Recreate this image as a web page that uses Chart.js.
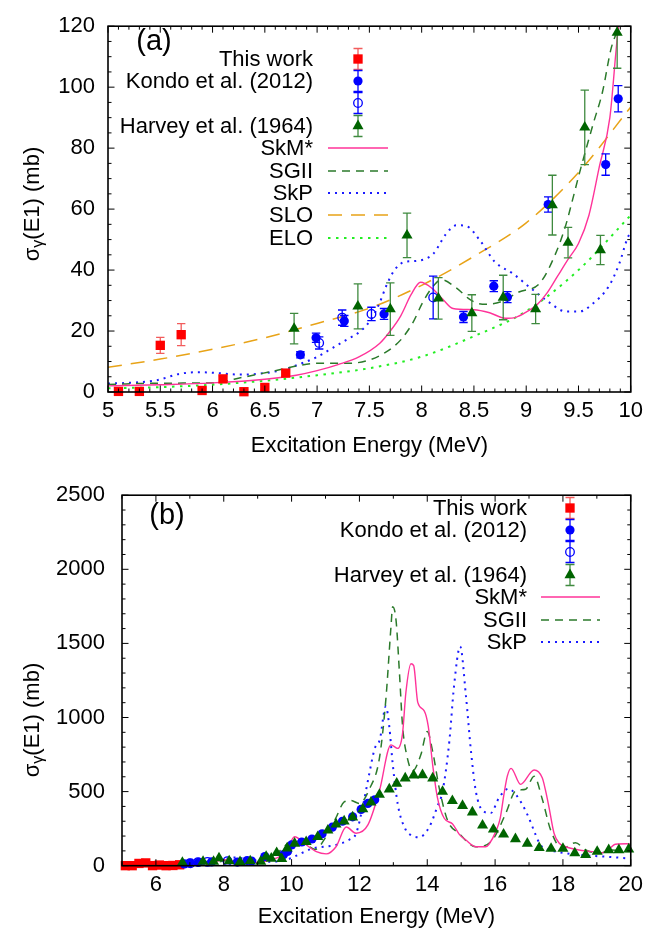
<!DOCTYPE html>
<html><head><meta charset="utf-8">
<script src="https://cdn.jsdelivr.net/npm/chart.js@4.4.1/dist/chart.umd.min.js"></script>
<style>
html,body{margin:0;padding:0;background:#fff;}
#wrap{position:relative;width:649px;height:937px;overflow:hidden;}
canvas{position:absolute;left:0;}
#ca{top:0;} #cb{top:465px;}
</style></head><body>
<div id="wrap"><canvas id="ca" width="649" height="465"></canvas><canvas id="cb" width="649" height="472"></canvas></div>
<script>
// ---------------- DATA ----------------
// Panel (a) tick labels
const xTicksA = [5, 5.5, 6, 6.5, 7, 7.5, 8, 8.5, 9, 9.5, 10];
const xTickLabelsA = ['5','5.5','6','6.5','7','7.5','8','8.5','9','9.5','10'];
const yTicksA = [0, 20, 40, 60, 80, 100, 120];
const yTickLabelsA = ['0','20','40','60','80','100','120'];
// Panel (b) tick labels
const xTicksB = [6, 8, 10, 12, 14, 16, 18, 20];
const xTickLabelsB = ['6','8','10','12','14','16','18','20'];
const yTicksB = [0, 500, 1000, 1500, 2000, 2500];
const yTickLabelsB = ['0','500','1000','1500','2000','2500'];

// This work
const thisWorkE   = [5.1, 5.3, 5.5, 5.7, 5.9, 6.1, 6.3, 6.5, 6.7];
const thisWorkS   = [0.2, 0.2, 15.3, 18.8, 0.5, 4.3, 0.1, 1.5, 6.2];
const thisWorkErr = [0.8, 0.8, 2.6, 3.6, 0.8, 1.0, 0.8, 0.8, 1.0];
// Kondo et al. (2012), filled
const kondoE   = [6.84, 6.99, 7.26, 7.64, 8.40, 8.69, 8.82, 9.21, 9.76, 9.88];
const kondoS   = [12.2, 17.8, 23.3, 25.6, 24.6, 34.7, 31.1, 61.5, 74.6, 96.2];
const kondoErr = [1.0, 1.5, 1.8, 1.8, 1.8, 1.8, 1.8, 2.5, 3.5, 4.3];
// Kondo et al. (2012), open
const kondoOpenE   = [7.02, 7.24, 7.52, 8.11];
const kondoOpenS   = [16.1, 24.4, 25.6, 31.0];
const kondoOpenErr = [2.0, 2.5, 2.2, 7.0];
// Kondo, higher energies (panel b)
const kondoHiE = [10.0, 10.3, 10.6, 10.9, 11.2, 11.5, 11.8, 12.05, 12.25, 12.45];
const kondoHiS = [140, 160, 180, 215, 260, 300, 330, 380, 420, 445];
// Harvey et al. (1964)
const harveyE   = [6.78, 7.39, 7.70, 7.86, 8.16, 8.48, 8.78, 9.09, 9.25, 9.40, 9.56, 9.71, 9.87];
const harveyS   = [20.8, 28.1, 27.2, 51.4, 30.7, 25.9, 31.0, 27.2, 61.3, 49.0, 86.8, 46.6, 117.9];
const harveyErr = [5.0, 7.4, 8.6, 7.3, 6.8, 6.0, 7.3, 4.8, 9.8, 5.0, 12.2, 4.8, 11.7];
// Harvey, higher energies (panel b)
const harveyHiE = [10.09, 10.43, 10.77, 11.07, 11.31, 11.55, 11.8, 12.1, 12.34, 12.59, 12.88, 13.1, 13.35, 13.6, 13.86, 14.16, 14.45, 14.74, 15.04, 15.33, 15.63, 15.95, 16.25, 16.6, 16.95, 17.3, 17.65, 18.0, 18.35, 18.67, 19.01, 19.35, 19.65, 19.94];
const harveyHiS = [150, 161, 195, 239, 280, 300, 327, 383, 427, 480, 516, 555, 590, 610, 612, 590, 500, 438, 405, 361, 272, 245, 212, 180, 150, 120, 115, 115, 85, 73, 95, 106, 106, 111];

// Panel (a) model curves
const skmA_E = [5.0, 5.5, 6.0, 6.5, 6.8, 7.0, 7.2, 7.4, 7.6, 7.7, 7.8, 7.9, 7.99, 8.1, 8.2, 8.3, 8.5, 8.65, 8.8, 8.9, 9.0, 9.1, 9.2, 9.3, 9.4, 9.5, 9.6, 9.7, 9.8, 9.88, 10.0];
const skmA_S = [2.0, 2.4, 3.0, 4.2, 5.5, 7.0, 9.0, 11.5, 16.0, 20.0, 25.0, 32.0, 36.0, 34.0, 30.5, 27.4, 27.0, 26.0, 24.2, 24.5, 26.2, 28.5, 32.5, 38.0, 43.5, 48.7, 58.0, 74.0, 90.0, 119, 140];
const sg2A_E = [5.0, 5.5, 6.0, 6.3, 6.6, 6.8, 7.0, 7.3, 7.5, 7.65, 7.8, 7.92, 8.01, 8.11, 8.19, 8.33, 8.46, 8.58, 8.75, 8.93, 9.13, 9.28, 9.38, 9.43, 9.51, 9.64, 9.73, 9.81, 9.87, 10.0];
const sg2A_S = [2.5, 2.9, 3.0, 4.9, 7.0, 8.5, 9.4, 9.4, 10.5, 12.9, 17.1, 23.0, 29.4, 34.7, 36.8, 34.2, 30.4, 28.8, 29.5, 32.8, 35.7, 45.3, 54.9, 61.3, 71.9, 87.9, 98.5, 112.4, 118.7, 135];
const skpA_E = [5.0, 5.2, 5.46, 5.69, 5.88, 6.05, 6.26, 6.52, 6.7, 6.83, 7.0, 7.15, 7.3, 7.41, 7.52, 7.6, 7.66, 7.74, 7.84, 7.95, 8.11, 8.23, 8.33, 8.43, 8.56, 8.7, 8.87, 9.06, 9.22, 9.38, 9.51, 9.63, 9.79, 9.89, 9.97, 10.0];
const skpA_S = [2.8, 3.0, 3.8, 6.0, 6.5, 6.2, 5.7, 6.3, 7.5, 9.1, 11.5, 14.5, 17.5, 19.8, 24.0, 29.4, 34.7, 40.0, 42.7, 43.0, 45.3, 51.7, 54.7, 54.4, 49.6, 42.7, 38.9, 33.6, 29.4, 26.4, 26.4, 28.8, 34.7, 42.1, 50.6, 52.5];
const sloA_E = [5.0, 5.5, 6.0, 6.5, 7.0, 7.5, 8.0, 8.5, 9.0, 9.5, 10.0];
const sloA_S = [8.1, 10.8, 14.0, 17.8, 22.5, 27.5, 35.0, 44.5, 55.5, 72.0, 93.5];
const eloA_E = [5.0, 5.5, 6.0, 6.5, 7.0, 7.5, 8.0, 8.5, 9.0, 9.5, 10.0];
const eloA_S = [1.2, 1.6, 2.4, 3.7, 5.5, 7.8, 11.6, 18.3, 26.5, 40.0, 58.0];

// Panel (b) model curves
const skmB_E = [5.0, 6.0, 7.0, 7.5, 7.8, 8.03, 8.3, 8.86, 9.2, 9.55, 9.84, 10.09, 10.38, 10.73, 11.02, 11.31, 11.61, 11.9, 12.25, 12.59, 12.93, 13.13, 13.27, 13.37, 13.52, 13.6, 13.72, 13.91, 14.03, 14.16, 14.3, 14.5, 14.74, 14.95, 15.14, 15.43, 15.72, 15.82, 16.02, 16.15, 16.26, 16.36, 16.47, 16.75, 17.15, 17.39, 17.49, 17.59, 17.74, 17.9, 18.08, 18.47, 18.86, 19.1, 19.3, 19.55, 19.89, 20.0];
const skmB_S = [3, 4, 8, 15, 30, 40, 30, 22, 30, 51, 95, 195, 150, 95, 80, 128, 261, 219, 275, 505, 815, 792, 890, 1169, 1363, 1350, 1102, 1045, 940, 680, 460, 320, 283, 210, 173, 128, 128, 145, 230, 320, 480, 604, 657, 549, 646, 593, 505, 394, 217, 150, 128, 106, 95, 84, 100, 145, 148, 145];
const sg2B_E = [5.0, 6.0, 7.0, 7.5, 8.2, 8.6, 9.0, 9.4, 9.7, 10.0, 10.3, 10.7, 11.0, 11.3, 11.55, 11.75, 12.0, 12.3, 12.59, 12.78, 12.93, 12.98, 13.08, 13.18, 13.27, 13.4, 13.57, 13.81, 14.0, 14.16, 14.35, 14.6, 14.94, 15.43, 15.92, 16.31, 16.61, 16.9, 17.15, 17.39, 17.64, 17.98, 18.37, 18.67, 19.06, 19.45, 19.94, 20.0];
const sg2B_S = [3, 4, 7, 10, 37, 29, 33, 55, 110, 165, 160, 110, 190, 320, 430, 440, 420, 520, 726, 1124, 1611, 1748, 1655, 1301, 948, 740, 640, 748, 905, 770, 527, 305, 217, 128, 173, 350, 505, 516, 604, 450, 239, 117, 155, 106, 84, 106, 95, 95];
const skpB_E = [5.0, 6.0, 7.0, 7.6, 8.0, 8.3, 8.6, 9.0, 9.4, 9.7, 10.0, 10.19, 10.63, 10.97, 11.3, 11.7, 11.9, 12.1, 12.29, 12.45, 12.6, 12.78, 12.88, 12.98, 13.13, 13.37, 13.52, 13.76, 14.06, 14.3, 14.45, 14.65, 14.79, 14.97, 15.14, 15.29, 15.43, 15.63, 15.87, 16.12, 16.4, 16.61, 16.81, 17.0, 17.2, 17.34, 17.6, 17.79, 18.47, 18.96, 19.45, 19.84, 20.0];
const skpB_S = [3, 6, 12, 30, 43, 55, 48, 34, 27, 32, 52, 73, 117, 128, 140, 175, 217, 400, 620, 790, 850, 1075, 940, 690, 415, 240, 206, 192, 261, 400, 500, 837, 1213, 1479, 1147, 770, 505, 372, 355, 460, 520, 480, 410, 320, 206, 139, 105, 95, 73, 65, 58, 51, 50];

// ---------------- STYLE / HELPERS ----------------
const FAM = '"Liberation Sans", Arial, Helvetica, sans-serif';
const FS = 22;
Chart.defaults.font.family = FAM;
Chart.defaults.color = '#000';

function pts(E, S, err) { return E.map((x, i) => ({x: x, y: S[i], e: err ? err[i] : 0})); }

const STY = {
  tw: {pointStyle:'rect', pointRadius:6.6, pointBackgroundColor:'#ff0000', pointBorderColor:'#ff0000', pointBorderWidth:0, errColor:'#f25c5c', order:1.8},
  kf: {pointStyle:'circle', pointRadius:4.6, pointBackgroundColor:'#0000ff', pointBorderColor:'#0000ff', pointBorderWidth:0, errColor:'#0000ff', order:1.5},
  ko: {pointStyle:'circle', pointRadius:4.3, pointBackgroundColor:'rgba(255,255,255,0)', pointBorderColor:'#0000ff', pointBorderWidth:1.3, errColor:'#0000ff', order:1.4},
  hv: {pointStyle:'triangle', pointRadius:6.4, pointBackgroundColor:'#006400', pointBorderColor:'#006400', pointBorderWidth:0, errColor:'#3f8a3f', order:1},
  skm: {borderColor:'#ff3399', borderWidth:1.4, borderDash:[]},
  sg2: {borderColor:'#2b7a2b', borderWidth:1.5, borderDash:[8,6]},
  skp: {borderColor:'#1a1aff', borderWidth:2, borderDash:[2,5]},
  slo: {borderColor:'#e8a317', borderWidth:1.5, borderDash:[14,9]},
  elo: {borderColor:'#22ee22', borderWidth:2, borderDash:[2.5,5.5]}
};

function pointDS(key, label, data) {
  return Object.assign({key, label, data, showLine:false, clip:false, pointHoverRadius:STY[key].pointRadius}, STY[key]);
}
function lineDS(key, label, data) {
  return Object.assign({key, label, data, showLine:true, pointRadius:0, pointHoverRadius:0, fill:false,
    cubicInterpolationMode:'monotone', order:3}, STY[key]);
}

function drawMarker(ctx, ds, x, y) {
  const r = ds.pointRadius;
  ctx.save();
  ctx.fillStyle = ds.pointBackgroundColor; ctx.strokeStyle = ds.pointBorderColor; ctx.lineWidth = ds.pointBorderWidth || 1;
  ctx.setLineDash([]);
  ctx.beginPath();
  if (ds.pointStyle === 'rect') { const s = r * Math.SQRT1_2; ctx.rect(x - s, y - s, 2 * s, 2 * s); }
  else if (ds.pointStyle === 'triangle') {
    const a = 2 * Math.PI / 3;
    ctx.moveTo(x, y - r);
    ctx.lineTo(x + r * Math.sin(a), y - r * Math.cos(a));
    ctx.lineTo(x + r * Math.sin(2 * a), y - r * Math.cos(2 * a));
    ctx.closePath();
  } else ctx.arc(x, y, r, 0, 2 * Math.PI);
  ctx.fill();
  if (ds.pointBorderWidth) ctx.stroke();
  ctx.restore();
}

function errBar(ctx, x, y1, y2, cap) {
  ctx.moveTo(x, y1); ctx.lineTo(x, y2);
  ctx.moveTo(x - cap, y1); ctx.lineTo(x + cap, y1);
  ctx.moveTo(x - cap, y2); ctx.lineTo(x + cap, y2);
}

const decor = {
  id: 'decor',
  beforeDatasetDraw(chart, args) {
    const ds = chart.data.datasets[args.index];
    if (!ds.errColor) return;
    const xs = chart.scales.x, ys = chart.scales.y, ctx = chart.ctx, a = chart.chartArea;
    ctx.save();
    ctx.beginPath(); ctx.rect(a.left, a.top, a.right - a.left, a.bottom - a.top); ctx.clip();
    ctx.strokeStyle = ds.errColor; ctx.lineWidth = 1.3;
    ctx.beginPath();
    for (const p of ds.data) {
      if (!p.e) continue;
      const x = xs.getPixelForValue(p.x);
      errBar(ctx, x, ys.getPixelForValue(p.y - p.e), ys.getPixelForValue(p.y + p.e), 4.2);
    }
    ctx.stroke();
    ctx.restore();
  },
  afterDraw(chart, args, o) {
    const ctx = chart.ctx, a = chart.chartArea, xs = chart.scales.x, ys = chart.scales.y;
    ctx.save();
    // inward ticks on all four sides
    ctx.strokeStyle = '#000'; ctx.lineWidth = 1; ctx.setLineDash([]);
    ctx.beginPath();
    const nx = Math.round((xs.max - xs.min) / o.xMinor);
    for (let i = 0; i <= nx; i++) {
      const v = xs.min + i * o.xMinor;
      const q = v / o.xMajor, maj = Math.abs(q - Math.round(q)) < 1e-6;
      const len = maj ? 6.5 : 3.5, p = xs.getPixelForValue(v);
      ctx.moveTo(p, a.bottom); ctx.lineTo(p, a.bottom - len);
      ctx.moveTo(p, a.top); ctx.lineTo(p, a.top + len);
    }
    const ny = Math.round((ys.max - ys.min) / o.yMinor);
    for (let i = 0; i <= ny; i++) {
      const v = ys.min + i * o.yMinor;
      const q = v / o.yMajor, maj = Math.abs(q - Math.round(q)) < 1e-6;
      const len = maj ? 6.5 : 3.5, p = ys.getPixelForValue(v);
      ctx.moveTo(a.left, p); ctx.lineTo(a.left + len, p);
      ctx.moveTo(a.right, p); ctx.lineTo(a.right - len, p);
    }
    ctx.stroke();
    // frame
    ctx.lineWidth = 1.6;
    ctx.strokeRect(a.left, a.top, a.right - a.left, a.bottom - a.top);

    // panel label
    ctx.fillStyle = '#000';
    ctx.font = '29px ' + FAM; ctx.textAlign = 'center'; ctx.textBaseline = 'middle';
    ctx.fillText(o.panel.text, o.panel.x, o.panel.y);

    // y-axis title with subscript gamma
    ctx.save();
    ctx.translate(o.ytitle.x, o.ytitle.y); ctx.rotate(-Math.PI / 2);
    const f1 = FS + 'px ' + FAM, f2 = Math.round(FS * 0.72) + 'px ' + FAM;
    ctx.font = f1; const w1 = ctx.measureText('σ').width, w3 = ctx.measureText('(E1) (mb)').width;
    ctx.font = f2; const w2 = ctx.measureText('γ').width;
    let cx = -(w1 + w2 + w3) / 2; const base = FS * 0.36;
    ctx.textAlign = 'left'; ctx.textBaseline = 'alphabetic';
    ctx.font = f1; ctx.fillText('σ', cx, base); cx += w1;
    ctx.font = f2; ctx.fillText('γ', cx, base + FS * 0.2); cx += w2;
    ctx.font = f1; ctx.fillText('(E1) (mb)', cx, base);
    ctx.restore();

    // legend
    const L = o.legend;
    ctx.font = FS + 'px ' + FAM; ctx.textAlign = 'right'; ctx.textBaseline = 'middle';
    for (const it of L.items) {
      const ds = chart.data.datasets.find(d => d.key === it.key);
      if (it.text) { ctx.fillStyle = '#000'; ctx.fillText(it.text, L.textRight, it.y + 1); }
      if (ds.showLine) {
        ctx.save(); ctx.strokeStyle = ds.borderColor; ctx.lineWidth = ds.borderWidth; ctx.setLineDash(ds.borderDash || []);
        ctx.beginPath(); ctx.moveTo(L.x1, it.y); ctx.lineTo(L.x2, it.y); ctx.stroke(); ctx.restore();
      } else {
        ctx.save(); ctx.strokeStyle = ds.errColor; ctx.lineWidth = 1.3; ctx.setLineDash([]);
        ctx.beginPath(); errBar(ctx, L.xm, it.y - 10.5, it.y + 10.5, 4.5); ctx.stroke(); ctx.restore();
        drawMarker(ctx, ds, L.xm, it.y);
      }
    }
    ctx.restore();
  }
};

function axes(xmin, xmax, ymin, ymax, xT, xL, yT, yL, yW, xH, yPad, titlePadB) {
  return {
    x: {type:'linear', min:xmin, max:xmax,
      grid:{display:false, drawTicks:false}, border:{display:false},
      afterBuildTicks: s => { s.ticks = xT.map(v => ({value:v})); },
      afterFit: s => { s.height = xH; },
      ticks:{padding:6, font:{size:FS}, color:'#000', maxRotation:0, autoSkip:false,
        callback: v => xL[xT.indexOf(v)]},
      title:{display:true, text:'Excitation Energy (MeV)', color:'#000', font:{size:FS}, padding:{top:0, bottom:titlePadB}}},
    y: {type:'linear', min:ymin, max:ymax,
      grid:{display:false, drawTicks:false}, border:{display:false},
      afterBuildTicks: s => { s.ticks = yT.map(v => ({value:v})); },
      afterFit: s => { s.width = yW; },
      ticks:{padding:yPad, font:{size:FS}, color:'#000', autoSkip:false,
        callback: v => yL[yT.indexOf(v)]},
      title:{display:false}}
  };
}

// ---------------- PANEL (a) ----------------
new Chart(document.getElementById('ca'), {
  type: 'scatter',
  data: { datasets: [
    pointDS('tw', 'This work', pts(thisWorkE, thisWorkS, thisWorkErr)),
    pointDS('kf', 'Kondo et al. (2012)', pts(kondoE, kondoS, kondoErr)),
    pointDS('ko', 'Kondo et al. (2012) open', pts(kondoOpenE, kondoOpenS, kondoOpenErr)),
    pointDS('hv', 'Harvey et al. (1964)', pts(harveyE, harveyS, harveyErr)),
    lineDS('skm', 'SkM*', pts(skmA_E, skmA_S)),
    lineDS('sg2', 'SGII', pts(sg2A_E, sg2A_S)),
    lineDS('skp', 'SkP', pts(skpA_E, skpA_S)),
    lineDS('slo', 'SLO', pts(sloA_E, sloA_S)),
    lineDS('elo', 'ELO', pts(eloA_E, eloA_S))
  ]},
  options: {
    responsive:false, animation:false, devicePixelRatio:1, events:[],
    layout:{padding:{left:0, right:18, top:16, bottom:0}},
    scales: axes(5, 10, 0, 120, xTicksA, xTickLabelsA, yTicksA, yTickLabelsA, 108, 73, 13, 6),
    plugins: {
      legend:{display:false}, tooltip:{enabled:false},
      decor: {
        xMajor:0.5, xMinor:0.1, yMajor:20, yMinor:5,
        panel:{text:'(a)', x:154, y:42},
        ytitle:{x:31, y:204},
        legend:{textRight:313, x1:328, x2:388, xm:358, items:[
          {text:'This work', key:'tw', y:59},
          {text:'Kondo et al. (2012)', key:'kf', y:81},
          {text:'', key:'ko', y:103},
          {text:'Harvey et al. (1964)', key:'hv', y:126},
          {text:'SkM*', key:'skm', y:148},
          {text:'SGII', key:'sg2', y:171},
          {text:'SkP', key:'skp', y:193},
          {text:'SLO', key:'slo', y:215},
          {text:'ELO', key:'elo', y:238}
        ]}
      }
    }
  },
  plugins:[decor]
});

// ---------------- PANEL (b) ----------------
new Chart(document.getElementById('cb'), {
  type: 'scatter',
  data: { datasets: [
    pointDS('tw', 'This work', pts(thisWorkE, thisWorkS, thisWorkErr)),
    pointDS('kf', 'Kondo et al. (2012)', pts(kondoE.concat(kondoHiE), kondoS.concat(kondoHiS))),
    pointDS('ko', 'Kondo et al. (2012) open', pts(kondoOpenE, kondoOpenS)),
    pointDS('hv', 'Harvey et al. (1964)', pts(harveyE.concat(harveyHiE), harveyS.concat(harveyHiS))),
    lineDS('skm', 'SkM*', pts(skmB_E, skmB_S)),
    lineDS('sg2', 'SGII', pts(sg2B_E, sg2B_S)),
    lineDS('skp', 'SkP', pts(skpB_E, skpB_S))
  ]},
  options: {
    responsive:false, animation:false, devicePixelRatio:1, events:[],
    layout:{padding:{left:0, right:18, top:24.5, bottom:0}},
    scales: axes(5, 20, 0, 2500, xTicksB, xTickLabelsB, yTicksB, yTickLabelsB, 122, 71.3, 17, 7),
    plugins: {
      legend:{display:false}, tooltip:{enabled:false},
      decor: {
        xMajor:2, xMinor:1, yMajor:500, yMinor:100,
        panel:{text:'(b)', x:167, y:51},
        ytitle:{x:31, y:255},
        legend:{textRight:527, x1:541, x2:600, xm:570, items:[
          {text:'This work', key:'tw', y:43},
          {text:'Kondo et al. (2012)', key:'kf', y:65},
          {text:'', key:'ko', y:87},
          {text:'Harvey et al. (1964)', key:'hv', y:110},
          {text:'SkM*', key:'skm', y:132},
          {text:'SGII', key:'sg2', y:155},
          {text:'SkP', key:'skp', y:177}
        ]}
      }
    }
  },
  plugins:[decor]
});
</script>
</body></html>
